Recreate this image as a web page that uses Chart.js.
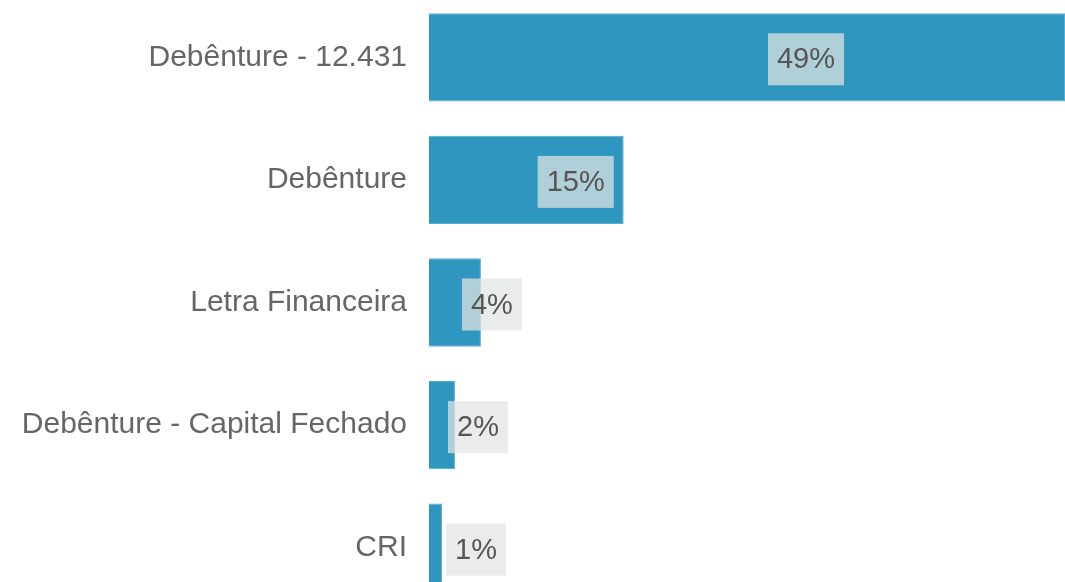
<!DOCTYPE html>
<html>
<head>
<meta charset="utf-8">
<script src="https://cdn.jsdelivr.net/npm/chart.js@4"></script>
<style>
  html, body { margin: 0; padding: 0; background: #fff; overflow: hidden; }
  #wrap { position: absolute; left: 0; top: -4px; width: 1065px; height: 613px; }
</style>
</head>
<body>
<div id="wrap"><canvas id="myChart"></canvas></div>
<script>
var categories = ['Debênture - 12.431', 'Debênture', 'Letra Financeira', 'Debênture - Capital Fechado', 'CRI'];
var shares = [49, 15, 4, 2, 1];
var shareLabels = ['49%', '15%', '4%', '2%', '1%'];

// how far each label box sits from the end of its bar (px)
var labelShift = [-259, -48, 11, 23, 34];

var labelBoxes = {
  id: 'labelBoxes',
  afterDatasetsDraw: function(chart) {
    var ctx = chart.ctx;
    var bars = chart.getDatasetMeta(0).data;
    ctx.save();
    ctx.font = '29px "Liberation Sans", Arial, sans-serif';
    ctx.textAlign = 'center';
    ctx.textBaseline = 'middle';
    bars.forEach(function(bar, i) {
      var text = shareLabels[i];
      var w = ctx.measureText(text).width + 18;
      var h = 52;
      var cx = bar.x + labelShift[i];
      var cy = bar.y + 2;
      ctx.fillStyle = 'rgba(226, 229, 227, 0.72)';
      ctx.fillRect(cx - w / 2, cy - h / 2, w, h);
      ctx.fillStyle = '#555555';
      ctx.fillText(text, cx, cy + 1);
    });
    ctx.restore();
  }
};

function renderChart() {
  var ctx = document.getElementById('myChart').getContext('2d');
  var myChart = new Chart(ctx, {
    type: 'bar',
    data: {
      labels: categories,
      datasets: [{
        data: shares,
        backgroundColor: '#2f96bf',
        borderColor: '#58aed1',
        borderWidth: 1,
        barPercentage: 0.72,
        categoryPercentage: 1
      }]
    },
    options: {
      indexAxis: 'y',
      responsive: true,
      maintainAspectRatio: false,
      animation: false,
      layout: { padding: 0 },
      plugins: {
        legend: { display: false },
        tooltip: { enabled: false }
      },
      scales: {
        x: {
          display: false,
          min: 0,
          max: Math.max.apply(null, shares)
        },
        y: {
          grid: { display: false, drawTicks: false },
          border: { display: false },
          ticks: {
            padding: 22,
            color: '#666666',
            font: { family: '"Liberation Sans", Arial, sans-serif', size: 30 }
          },
          afterFit: function(scale) {
            scale.width = 429;
            scale.paddingTop = 0;
            scale.paddingBottom = 0;
          }
        }
      }
    },
    plugins: [labelBoxes]
  });
}

renderChart();
</script>
</body>
</html>
